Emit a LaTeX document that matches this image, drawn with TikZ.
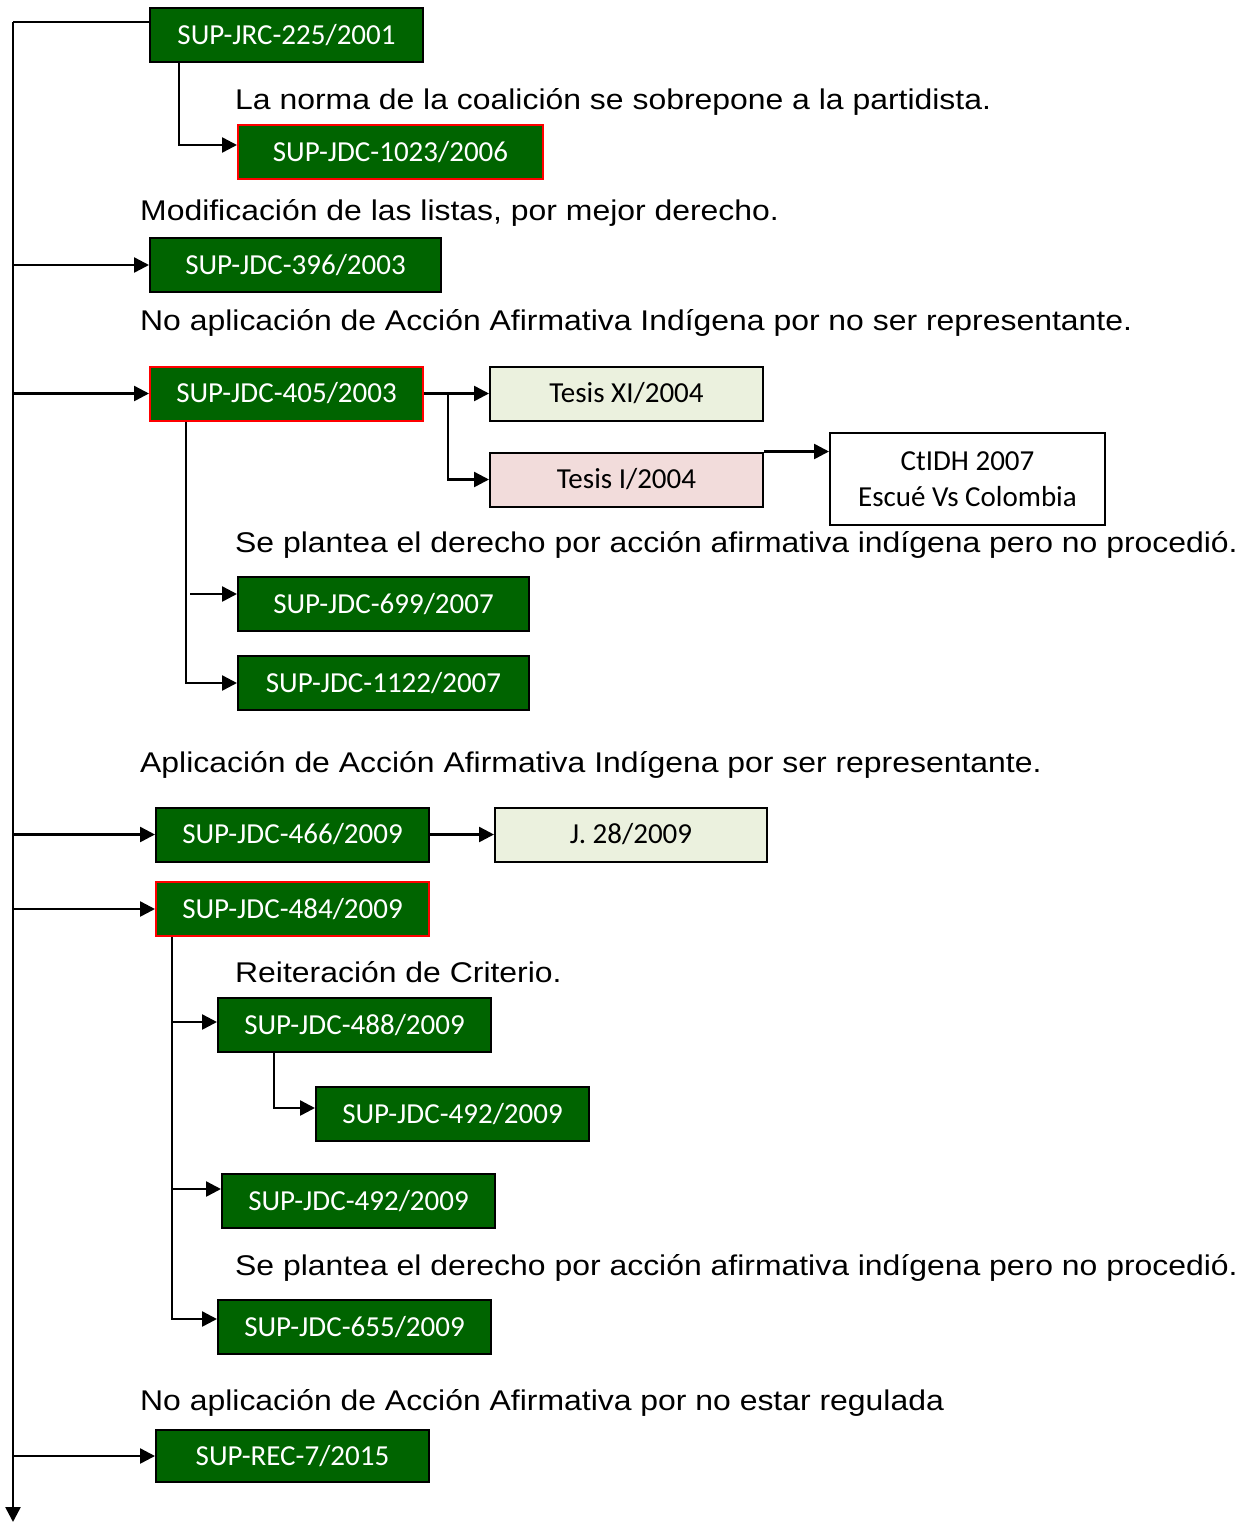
\documentclass[tikz,border=0pt]{standalone}
\usepackage{fontspec}
\setmainfont{Liberation Sans}
\newfontfamily\topicfont[FakeStretch=1.12]{Liberation Sans}
\newfontfamily\boxfont{Carlito}
\usepackage{xcolor}
\usetikzlibrary{arrows.meta}
\definecolor{casegreen}{RGB}{0,100,0}
\definecolor{tesisgreen}{RGB}{235,241,222}
\definecolor{tesispink}{RGB}{242,220,219}
\definecolor{markred}{RGB}{255,0,0}

\begin{document}
\begin{tikzpicture}[x=1pt, y=-1pt,
    ruling/.style={draw=black, fill=casegreen, line width=2pt, text=white,
                   minimum width=273pt, minimum height=54pt, inner sep=0pt,
                   font=\boxfont\fontsize{29}{33}\selectfont},
    leading/.style={ruling, draw=markred},
    tesis/.style={draw=black, line width=2pt, minimum width=273pt, minimum height=54pt,
                  inner sep=0pt, align=center, font=\boxfont\fontsize{29}{36}\selectfont},
    topic/.style={anchor=west, inner sep=0pt, font=\topicfont\fontsize{28.5}{32}\selectfont},
    link/.style={-{Triangle[length=15pt,width=15pt]}, line width=2.5pt},
    trunk/.style={line width=2.5pt}
]
\useasboundingbox (0,0) rectangle (1241,1524);

% case boxes
\node[ruling] (jrc225) at (286.5,35) {SUP-JRC-225/2001};
\node[leading, minimum width=305pt] (jdc1023) at (390.5,152) {SUP-JDC-1023/2006};
\node[ruling, minimum width=291pt] (jdc396) at (295.5,265) {SUP-JDC-396/2003};
\node[leading] (jdc405) at (286.5,393.5) {SUP-JDC-405/2003};
\node[tesis, fill=tesisgreen] (tesis11) at (626.5,393.5) {Tesis XI/2004};
\node[tesis, fill=tesispink] (tesis1) at (626.5,479.5) {Tesis I/2004};
\node[tesis, fill=white, minimum width=275pt, minimum height=92pt] (ctidh) at (967.5,479)
    {CtIDH 2007\\Escué Vs Colombia};
\node[ruling, minimum width=291pt] (jdc699) at (383.5,604) {SUP-JDC-699/2007};
\node[ruling, minimum width=291pt] (jdc1122) at (383.5,683) {SUP-JDC-1122/2007};
\node[ruling] (jdc466) at (292.5,834.5) {SUP-JDC-466/2009};
\node[tesis, fill=tesisgreen, minimum width=272pt] (j28) at (631,834.5) {J. 28/2009};
\node[leading] (jdc484) at (292.5,909) {SUP-JDC-484/2009};
\node[ruling] (jdc488) at (354.5,1025) {SUP-JDC-488/2009};
\node[ruling] (jdc492a) at (452.5,1114) {SUP-JDC-492/2009};
\node[ruling] (jdc492b) at (358.5,1201) {SUP-JDC-492/2009};
\node[ruling] (jdc655) at (354.5,1327) {SUP-JDC-655/2009};
\node[ruling, minimum height=52pt] (rec7) at (292.5,1456) {SUP-REC-7/2015};

% criteria
\node[topic] (crit1) at (235,102) {La norma de la coalición se sobrepone a la partidista.};
\node[topic] (crit2) at (140,213) {Modificación de las listas, por mejor derecho.};
\node[topic] (crit3) at (140,323) {No aplicación de Acción Afirmativa Indígena por no ser representante.};
\node[topic] (crit4) at (235,545) {Se plantea el derecho por acción afirmativa indígena pero no procedió.};
\node[topic] (crit5) at (140,765) {Aplicación de Acción Afirmativa Indígena por ser representante.};
\node[topic] (crit6) at (235,972) {Reiteración de Criterio.};
\node[topic] (crit7) at (235,1268) {Se plantea el derecho por acción afirmativa indígena pero no procedió.};
\node[topic] (crit8) at (140,1403) {No aplicación de Acción Afirmativa por no estar regulada};

% timeline
\coordinate (top) at (13,22);
\coordinate (bottom) at (13,1522);
\draw[trunk] (jrc225.west |- top) -- (top);
\draw[link] (top) -- (bottom);
\draw[link] (top |- jdc396) -- (jdc396);
\draw[link] (top |- jdc405) -- (jdc405);
\draw[link] (top |- jdc466) -- (jdc466);
\draw[link] (top |- jdc484) -- (jdc484);
\draw[link] (top |- rec7) -- (rec7);

% entry points a little above the box middles
\coordinate (in1023) at ([yshift=7pt]jdc1023.west);
\coordinate (in699) at ([yshift=10pt]jdc699.west);
\coordinate (in488) at ([yshift=3pt]jdc488.west);
\coordinate (in492a) at ([yshift=6pt]jdc492a.west);
\coordinate (in492b) at ([yshift=12pt]jdc492b.west);
\coordinate (in655) at ([yshift=8pt]jdc655.west);

% branches
\draw[link] ([xshift=30pt]jrc225.south west) |- (in1023);
\draw[link] (jdc405) -- (tesis11);
\coordinate (fork405) at (448,393.5);
\draw[link] (fork405) |- (tesis1);
\draw[link] (tesis1.north east) -- (ctidh.west |- tesis1.north east);
\coordinate (drop405) at ([xshift=37pt]jdc405.south west);
\draw[link] (drop405) |- (jdc1122);
\draw[link] ([xshift=4pt]drop405 |- in699) -- (in699);
\draw[link] (jdc466) -- (j28);
\coordinate (drop484) at ([xshift=17pt]jdc484.south west);
\draw[link] (drop484) |- (in655);
\draw[link] (drop484 |- in488) -- (in488);
\draw[link] (drop484 |- in492b) -- (in492b);
\draw[link] ([xshift=57pt]jdc488.south west) |- (in492a);
\end{tikzpicture}
\end{document}
